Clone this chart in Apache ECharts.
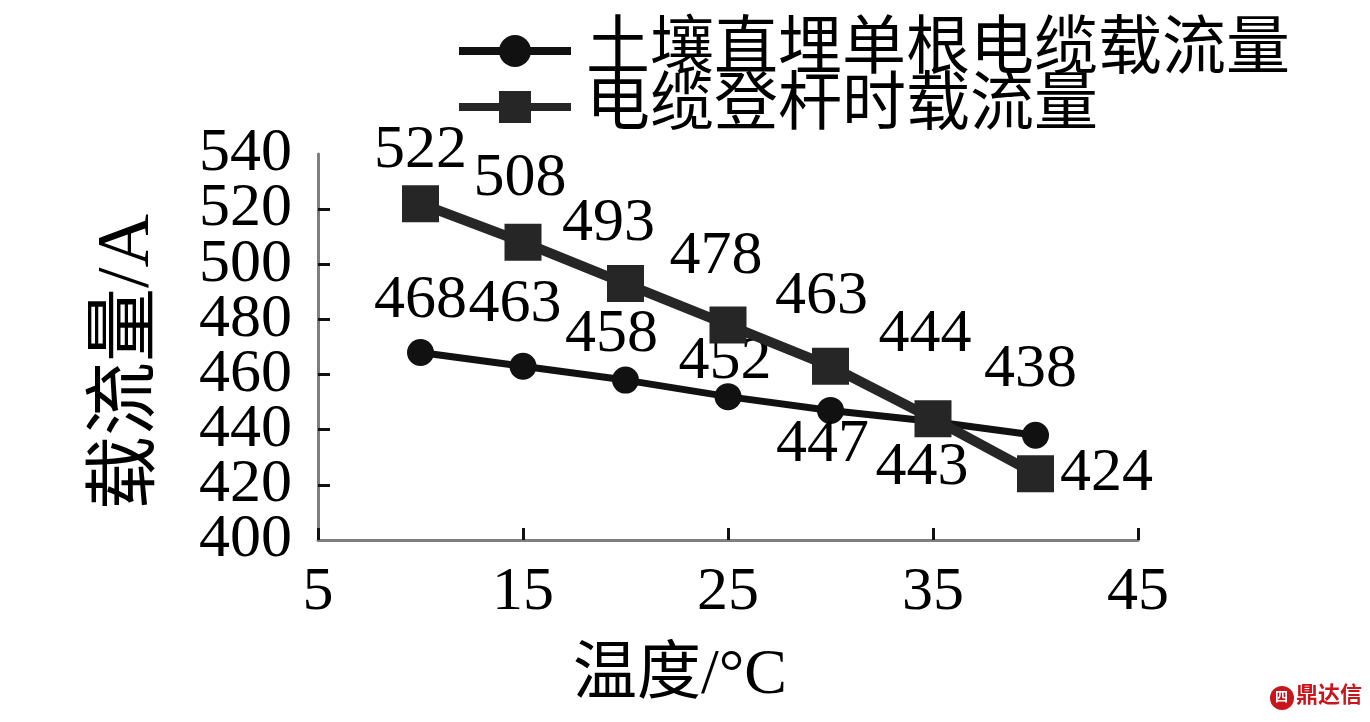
<!doctype html>
<html>
<head>
<meta charset="UTF-8">
<title>载流量</title>
<script src="https://cdn.jsdelivr.net/npm/echarts@6/dist/echarts.min.js"></script>
<style>
  html, body { margin: 0; padding: 0; background: #fff; }
  #main { width: 1370px; height: 722px; }
</style>
</head>
<body>
<div id="main"></div>
<script>
// 数据
var temps = [10, 15, 20, 25, 30, 35, 40];
var buriedCurrent = [468, 463, 458, 452, 447, 443, 438];   // 土壤直埋单根电缆载流量
var poleCurrent = [522, 508, 493, 478, 463, 444, 424];     // 电缆登杆时载流量
var xTicks = [5, 15, 25, 35, 45];
var yTicks = [400, 420, 440, 460, 480, 500, 520, 540];

// 标签偏移(相对于点中心)
var buriedLabelOffset = [[0, -52], [-8, -62], [-14, -45], [-3, -35], [-8, 34], [-11, 46], [-5, -66]];
var poleLabelOffset = [[0, -53], [-3, -64], [-17, -60], [-12, -68], [-9, -70], [-8, -84], [71, 0]];

var serif = '"Liberation Serif", "Times New Roman", "Noto Sans CJK SC", serif';
var yMin = yTicks[0], yMax = yTicks[yTicks.length - 1];

function buildData(vals, offs) {
    return vals.map(function (v, i) {
        return {
            value: [temps[i], v],
            label: { offset: offs[i] }
        };
    });
}

var myChart = echarts.init(document.getElementById('main'));

var option = {
    backgroundColor: '#fff',
    animation: false,
    grid: { left: 318, right: 232, top: 154, bottom: 182 },
    legend: {
        orient: 'vertical',
        left: 450,
        top: 14,
        itemWidth: 112,
        itemHeight: 40,
        itemGap: -8,
        lineStyle: { width: 8 },
        textStyle: {
            fontFamily: serif,
            fontSize: 64,
            color: '#000',
            padding: [0, 0, 0, 10]
        },
        data: ['土壤直埋单根电缆载流量', '电缆登杆时载流量']
    },
    xAxis: {
        type: 'value',
        min: xTicks[0],
        max: xTicks[xTicks.length - 1],
        interval: 10,
        name: '温度/°C',
        nameLocation: 'middle',
        nameGap: 104,
        nameTextStyle: { fontFamily: serif, fontSize: 64, color: '#000', padding: [0, 96, 0, 0] },
        axisLine: { lineStyle: { color: '#7f7f7f', width: 3 } },
        axisTick: { inside: true, length: 12, lineStyle: { color: '#111', width: 3 } },
        axisLabel: { margin: 22, fontFamily: serif, fontSize: 62, color: '#000', showMinLabel: true, showMaxLabel: true },
        splitLine: { show: false }
    },
    yAxis: [
        {
            // 主轴: 轴线、刻度和中间的刻度标签
            type: 'value',
            min: yMin,
            max: yMax,
            interval: 20,
            name: '载流量/A',
            nameLocation: 'middle',
            nameGap: 152,
            nameRotate: 90,
            nameTextStyle: { fontFamily: serif, fontSize: 74, color: '#000', padding: [0, 30, 0, 0] },
            axisLine: { show: true, lineStyle: { color: '#7f7f7f', width: 3 } },
            axisTick: { show: true, inside: true, length: 12, lineStyle: { color: '#111', width: 3 } },
            axisLabel: {
                margin: 26, fontFamily: serif, fontSize: 62, color: '#000',
                showMinLabel: false, showMaxLabel: false
            },
            splitLine: { show: false }
        },
        {
            // 辅助轴: 只画 400 和 540 两个标签(避免被重叠检测隐藏)
            type: 'value',
            position: 'right',
            offset: -820,
            min: yMin,
            max: yMax,
            interval: 20,
            axisLine: { show: false },
            axisTick: { show: false },
            splitLine: { show: false },
            axisLabel: {
                inside: true,
                margin: 26, fontFamily: serif, fontSize: 62, color: '#000',
                showMinLabel: true, showMaxLabel: true,
                formatter: function (v) { return (v === yMin || v === yMax) ? String(v) : ''; }
            }
        }
    ],
    series: [
        {
            name: '土壤直埋单根电缆载流量',
            type: 'line',
            symbol: 'circle',
            symbolSize: 27,
            z: 3,
            lineStyle: { color: '#111', width: 7 },
            itemStyle: { color: '#111' },
            label: {
                show: true,
                position: 'inside',
                fontFamily: serif,
                fontSize: 62,
                color: '#000',
                formatter: function (p) { return p.value[1]; }
            },
            data: buildData(buriedCurrent, buriedLabelOffset)
        },
        {
            name: '电缆登杆时载流量',
            type: 'line',
            symbol: 'rect',
            symbolSize: 37,
            z: 4,
            lineStyle: { color: '#262626', width: 10 },
            itemStyle: { color: '#262626' },
            label: {
                show: true,
                position: 'inside',
                fontFamily: serif,
                fontSize: 62,
                color: '#000',
                formatter: function (p) { return p.value[1]; }
            },
            data: buildData(poleCurrent, poleLabelOffset)
        }
    ],
    graphic: [
        {
            type: 'circle',
            shape: { cx: 1282, cy: 698, r: 12 },
            style: { fill: '#c8161d' }
        },
        {
            type: 'text',
            left: 1275,
            top: 690,
            style: { text: '四', fill: '#fff', font: 'bold 13px "Noto Sans CJK SC"' }
        },
        {
            type: 'text',
            left: 1296,
            top: 683,
            style: { text: '鼎达信', fill: '#c8161d', font: 'bold 22px "Noto Sans CJK SC"' }
        }
    ]
};

myChart.setOption(option);
</script>
</body>
</html>
